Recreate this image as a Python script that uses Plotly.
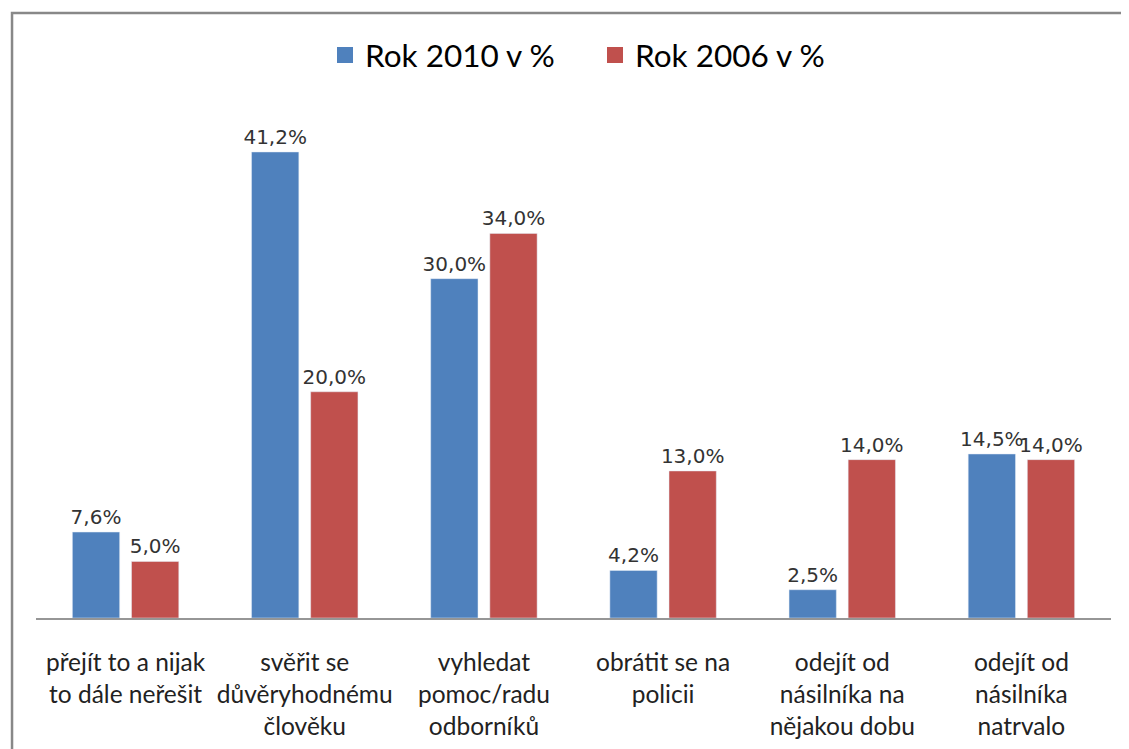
import plotly.graph_objects as go

categories = [
    "přejít to a nijak<br>to dále neřešit",
    "svěřit se<br>důvěryhodnému<br>člověku",
    "vyhledat<br>pomoc/radu<br>odborníků",
    "obrátit se na<br>policii",
    "odejít od<br>násilníka na<br>nějakou dobu",
    "odejít od<br>násilníka<br>natrvalo",
]
rok_2010 = [7.6, 41.2, 30.0, 4.2, 2.5, 14.5]
rok_2006 = [5.0, 20.0, 34.0, 13.0, 14.0, 14.0]

series_names = ["Rok 2010 v %", "Rok 2006 v %"]
series_colors = ["#4F81BD", "#C0504D"]


def pct(values):
    return [f"{v:.1f}%".replace(".", ",") for v in values]


label_font = dict(family="DejaVu Sans", size=20, color="#333333")

fig = go.Figure()
for name, values, color in zip(series_names, [rok_2010, rok_2006], series_colors):
    fig.add_trace(go.Bar(
        name=name,
        x=categories,
        y=values,
        text=pct(values),
        textposition="outside",
        constraintext="none",
        textfont=label_font,
        marker_color=color,
        cliponaxis=False,
        showlegend=False,
    ))

# legend entries with larger square swatches
for name, color in zip(series_names, series_colors):
    fig.add_trace(go.Scatter(
        name=name,
        x=[None],
        y=[None],
        mode="markers",
        marker=dict(symbol="square", size=16, color=color),
        showlegend=True,
    ))

fig.update_layout(
    width=1129,
    height=749,
    barmode="group",
    bargap=0.34,
    bargroupgap=0.2,
    margin=dict(l=28, r=26, t=101, b=139),
    paper_bgcolor="white",
    plot_bgcolor="white",
    legend=dict(
        orientation="h",
        x=0.52,
        xanchor="center",
        y=1.106,
        yanchor="middle",
        font=dict(family="Lato", size=31.5, color="#000000"),
        itemwidth=30,
        entrywidth=225,
    ),
    font=dict(family="Lato"),
)

fig.update_xaxes(
    showline=True,
    linecolor="#969696",
    linewidth=1.5,
    ticks="",
    tickfont=dict(family="Lato", size=24.5, color="#222222"),
    ticklabelstandoff=22,
    automargin=False,
)
fig.update_yaxes(
    range=[0, 45],
    showgrid=False,
    showticklabels=False,
    zeroline=False,
)

# outer chart frame (right and bottom edges run off the picture)
fig.add_shape(
    type="rect",
    xref="paper",
    yref="paper",
    x0=-0.0223,
    x1=1.5,
    y0=-0.6,
    y1=1.1886,
    line=dict(color="#888888", width=2.5),
    layer="below",
)

fig.write_html("out.html")
